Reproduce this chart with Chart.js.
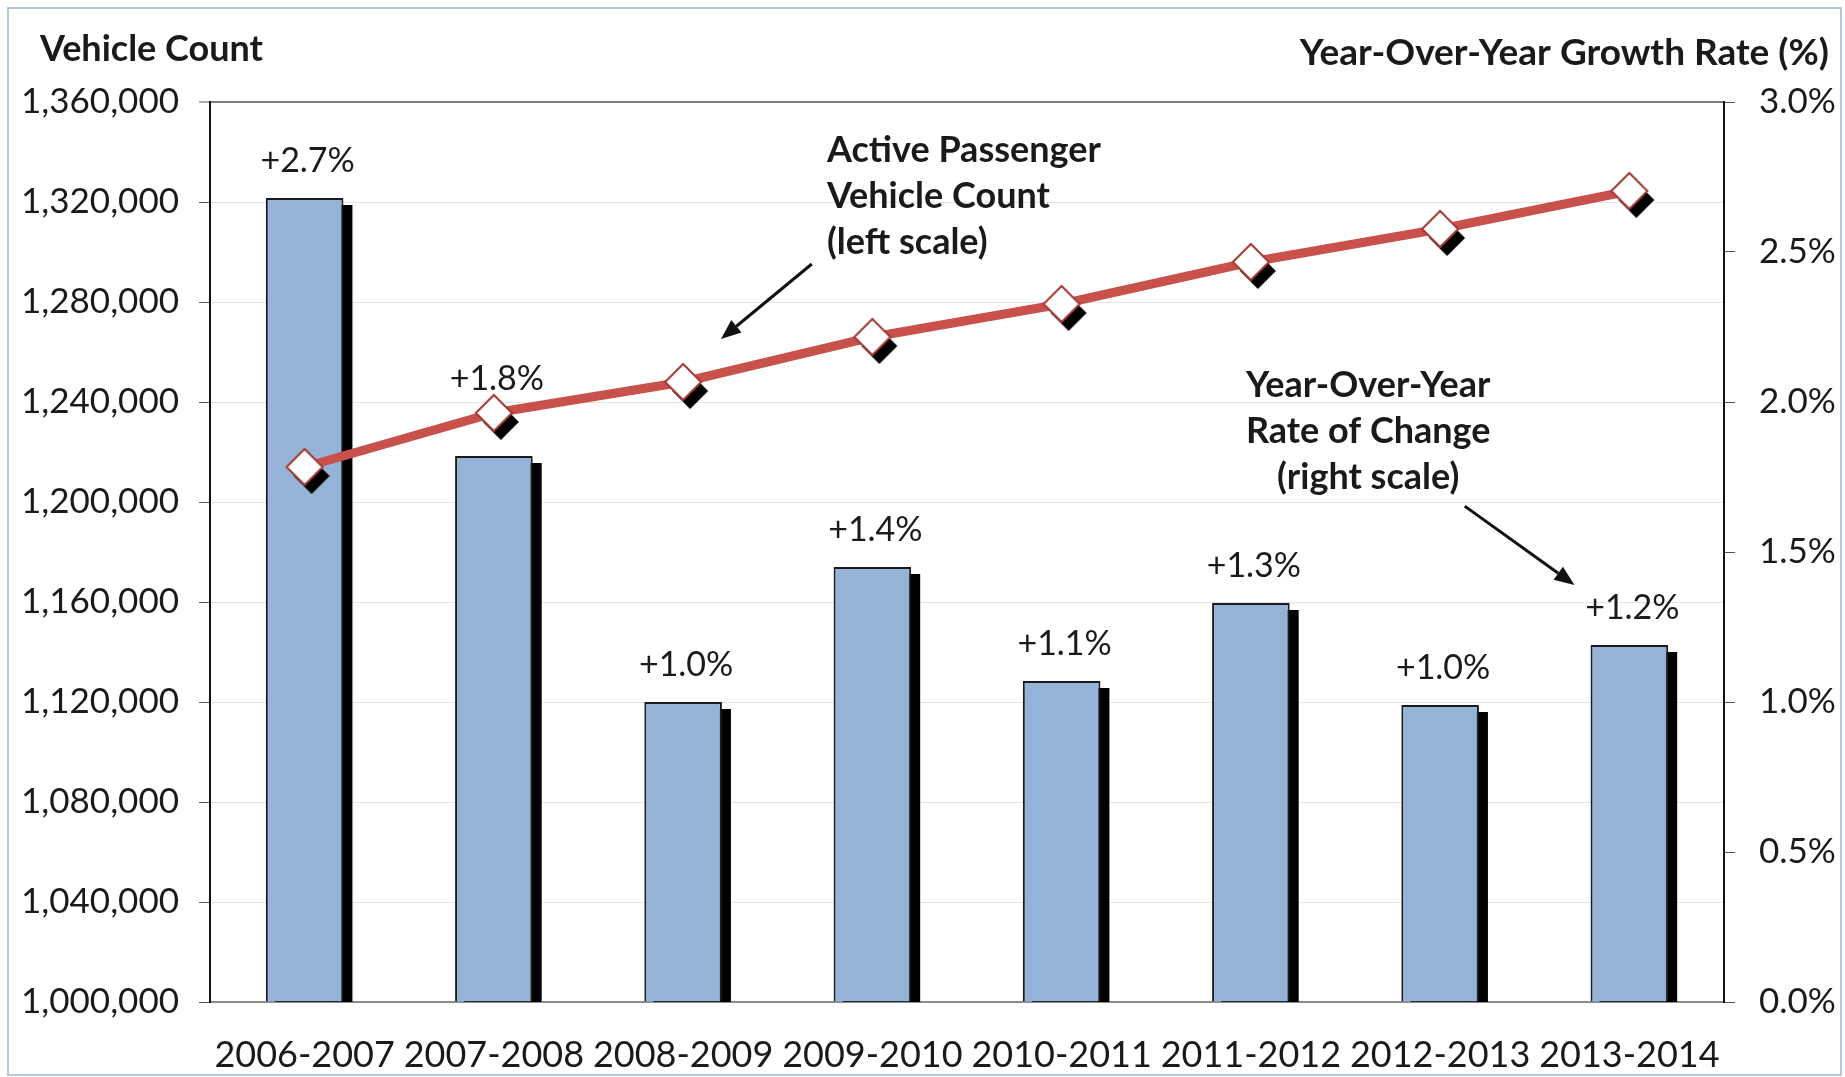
<!DOCTYPE html>
<html><head><meta charset="utf-8">
<script src="https://cdn.jsdelivr.net/npm/chart.js@4.4.0/dist/chart.umd.min.js"></script>
<style>html,body{margin:0;padding:0;background:#fff;overflow:hidden}canvas{display:block}</style>
</head><body>
<canvas id="c" width="1845" height="1077"></canvas>
<script>
// ---- data ----
const periods = ['2006-2007','2007-2008','2008-2009','2009-2010','2010-2011','2011-2012','2012-2013','2013-2014'];
const vehicleCounts = [1214000, 1235600, 1248000, 1266000, 1279200, 1296000, 1309200, 1324400];
const growthRates = [2.68, 1.82, 1.00, 1.45, 1.07, 1.33, 0.99, 1.19];
const growthLabels = ['+2.7%','+1.8%','+1.0%','+1.4%','+1.1%','+1.3%','+1.0%','+1.2%'];
const countAxis = {min: 1000000, max: 1360000, step: 40000};
const rateAxis = {min: 0, max: 3, step: 0.5};
const leftTitle = 'Vehicle Count';
const rightTitle = 'Year-Over-Year Growth Rate (%)';
const noteCount = ['Active Passenger','Vehicle Count','(left scale)'];
const noteRate = ['Year-Over-Year','Rate of Change','(right scale)'];

const FONT = 'Lato, "DejaVu Sans", sans-serif';
const TXT = '#1a1a1a';

function makeMarker(){
  const r = 18, pad = 14;
  const S = 2*(r+pad);
  const cv = document.createElement('canvas'); cv.width = S; cv.height = S;
  const g = cv.getContext('2d'); const c = S/2;
  function path(dx,dy){ g.beginPath(); g.moveTo(c+dx-r,c+dy); g.lineTo(c+dx,c+dy-r); g.lineTo(c+dx+r,c+dy); g.lineTo(c+dx,c+dy+r); g.closePath(); }
  path(7,9); g.fillStyle = '#000'; g.fill();
  path(0,0); g.fillStyle = '#fff'; g.fill(); g.lineWidth = 2; g.strokeStyle = '#a33a36'; g.stroke();
  return cv;
}

const framePlugin = {
  id: 'frame',
  beforeDraw(chart){
    const ctx = chart.ctx;
    ctx.save();
    ctx.fillStyle = '#fff'; ctx.fillRect(0,0,chart.width,chart.height);
    ctx.strokeStyle = '#b3c6e2'; ctx.lineWidth = 2;
    ctx.strokeRect(8,8,chart.width-12,chart.height-10);
    ctx.restore();
  },
  afterDraw(chart){
    const ctx = chart.ctx;
    ctx.save();
    ctx.fillStyle = TXT; ctx.textBaseline = 'middle';
    ctx.font = 'bold 36px ' + FONT;
    ctx.textAlign = 'left'; ctx.fillText(leftTitle, 40, 49);
    ctx.font = 'bold 37px ' + FONT;
    ctx.textAlign = 'right'; ctx.fillText(rightTitle, chart.width-16, 53);
    ctx.restore();
  }
};

// black drop shadow behind each bar, using the bar elements computed by Chart.js
const shadowPlugin = {
  id: 'barShadow',
  beforeDatasetDraw(chart, args, opts){
    if (chart.data.datasets[args.index].type !== 'bar') return;
    const ctx = chart.ctx, a = chart.chartArea;
    ctx.save();
    ctx.beginPath(); ctx.rect(a.left, a.top, a.right - a.left, a.bottom - a.top); ctx.clip();
    ctx.fillStyle = '#000';
    args.meta.data.forEach(el => {
      const p = el.getProps(['x','y','base','width'], true);
      ctx.fillRect(p.x - p.width/2 + opts.dx, p.y + opts.dy, p.width, p.base - p.y);
    });
    ctx.restore();
  }
};

const labelPlugin = {
  id: 'barLabels',
  afterDatasetsDraw(chart, args, opts){
    const idx = chart.data.datasets.findIndex(d => d.type === 'bar');
    const meta = chart.getDatasetMeta(idx);
    const ctx = chart.ctx;
    ctx.save();
    ctx.font = '34px ' + FONT; ctx.fillStyle = TXT; ctx.textAlign = 'center'; ctx.textBaseline = 'middle';
    meta.data.forEach((el, i) => {
      const lift = (i === opts.liftIndex) ? opts.lift : 0;
      ctx.fillText(growthLabels[i], el.x + 3, el.y - opts.gap - lift);
    });
    ctx.restore();
  }
};

function arrow(ctx, x1, y1, x2, y2){
  const ang = Math.atan2(y2-y1, x2-x1), L = 20, W = 8;
  const bx = x2 - L*Math.cos(ang), by = y2 - L*Math.sin(ang);
  ctx.beginPath(); ctx.moveTo(x1,y1); ctx.lineTo(bx,by);
  ctx.lineWidth = 3; ctx.strokeStyle = '#111'; ctx.stroke();
  ctx.beginPath(); ctx.moveTo(x2,y2);
  ctx.lineTo(bx + W*Math.sin(ang), by - W*Math.cos(ang));
  ctx.lineTo(bx - W*Math.sin(ang), by + W*Math.cos(ang));
  ctx.closePath(); ctx.fillStyle = '#111'; ctx.fill();
}

const notePlugin = {
  id: 'notes',
  afterDatasetsDraw(chart, args, opts){
    const ctx = chart.ctx, xs = chart.scales.x, yr = chart.scales.y1;
    ctx.save();
    ctx.font = 'bold 36px ' + FONT; ctx.fillStyle = TXT; ctx.textBaseline = 'middle';
    opts.notes.forEach(n => {
      ctx.textAlign = n.align;
      const x = xs.getPixelForValue(n.x), y = yr.getPixelForValue(n.y);
      n.lines.forEach((t, k) => ctx.fillText(t, x, y + k*opts.lineGap));
    });
    opts.arrows.forEach(a => {
      arrow(ctx, xs.getPixelForValue(a.x1), yr.getPixelForValue(a.y1), xs.getPixelForValue(a.x2), yr.getPixelForValue(a.y2));
    });
    ctx.restore();
  }
};

const tickFont = {family: FONT, size: 35};

new Chart(document.getElementById('c'), {
  data: {
    labels: periods,
    datasets: [
      {
        type: 'line', label: 'Active Passenger Vehicle Count', data: vehicleCounts, yAxisID: 'y', order: 0,
        borderColor: '#c8514c', borderWidth: 9, tension: 0,
        pointStyle: makeMarker(), pointRadius: 18, pointHoverRadius: 18
      },
      {
        type: 'bar', label: 'Year-Over-Year Rate of Change', data: growthRates, yAxisID: 'y1', order: 1,
        backgroundColor: '#95b3d7', borderColor: '#1a1a1a', borderWidth: 2,
        categoryPercentage: 1, barPercentage: 0.41
      }
    ]
  },
  options: {
    responsive: false, devicePixelRatio: 1, animation: false,
    layout: {padding: {top: 102, left: 0, right: 0, bottom: 0}},
    plugins: {
      legend: {display: false}, tooltip: {enabled: false},
      barShadow: {dx: 9, dy: 7},
      barLabels: {gap: 37, liftIndex: 1, lift: 40},
      notes: {
        lineGap: 46,
        notes: [
          {lines: noteCount, x: 2.76, y: 2.84, align: 'left'},
          {lines: noteRate, x: 5.62, y: 2.055, align: 'center'}
        ],
        arrows: [
          {x1: 2.68, y1: 2.46, x2: 2.2, y2: 2.21},
          {x1: 6.13, y1: 1.653, x2: 6.71, y2: 1.39}
        ]
      }
    },
    scales: {
      x: {
        offset: true,
        grid: {display: false},
        border: {display: true, color: '#8c8c8c', width: 2},
        ticks: {font: {family: FONT, size: 36}, color: TXT, padding: 24, maxRotation: 0, autoSkip: false},
        afterFit(s){ s.height = 75; }
      },
      y: {
        position: 'left', min: countAxis.min, max: countAxis.max,
        ticks: {stepSize: countAxis.step, font: tickFont, color: TXT, padding: 20,
          callback: v => v.toLocaleString('en-US')},
        grid: {color: ctx => ctx.tick && ctx.tick.value === countAxis.max ? '#7f7f7f' : '#e3e3e3',
          lineWidth: ctx => ctx.tick && ctx.tick.value === countAxis.max ? 2 : 1,
          tickLength: 11, tickColor: '#555', tickWidth: 1},
        border: {display: true, color: '#111', width: 2},
        afterFit(s){ s.width = 210; }
      },
      y1: {
        position: 'right', min: rateAxis.min, max: rateAxis.max,
        ticks: {stepSize: rateAxis.step, font: tickFont, color: TXT, padding: 24,
          callback: v => v.toFixed(1) + '%'},
        grid: {drawOnChartArea: false, tickLength: 11, tickColor: '#555', tickWidth: 1},
        border: {display: true, color: '#111', width: 2},
        afterFit(s){ s.width = 121; }
      }
    }
  },
  plugins: [framePlugin, shadowPlugin, labelPlugin, notePlugin]
});
</script>
</body></html>
